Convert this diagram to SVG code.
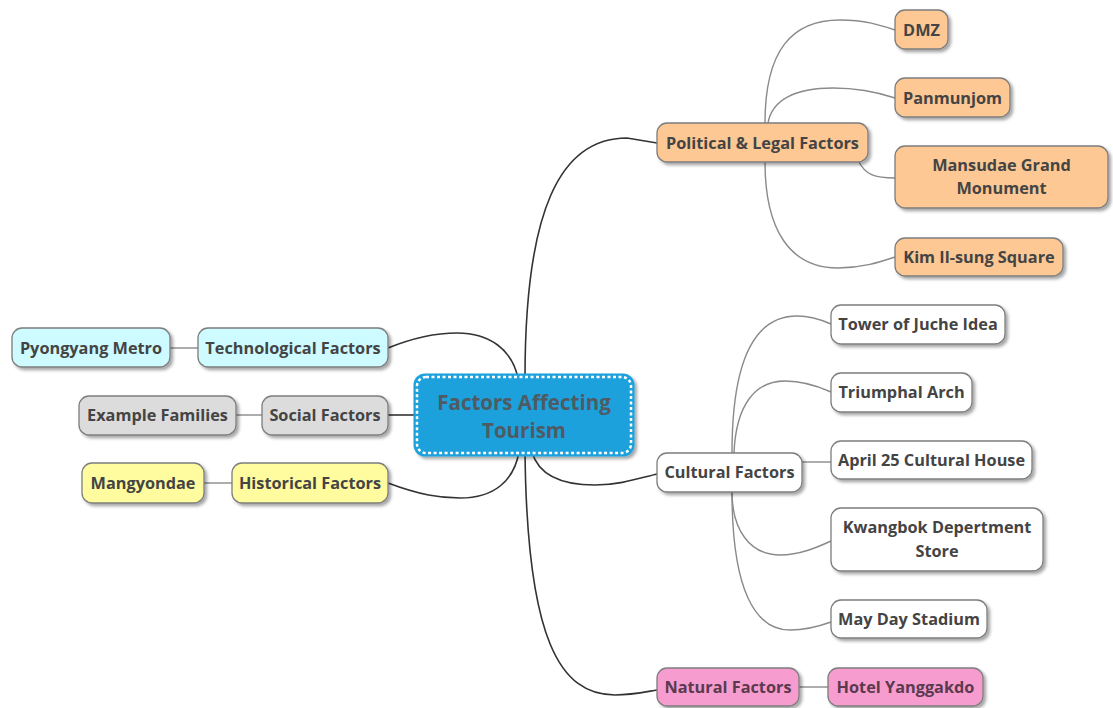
<svg xmlns="http://www.w3.org/2000/svg" width="1113" height="708" viewBox="0 0 1113 708">
<defs>
<filter id="sh" x="-10%" y="-20%" width="130%" height="160%">
<feDropShadow dx="2.5" dy="2.5" stdDeviation="1.5" flood-color="#000" flood-opacity="0.35"/>
</filter>
<style>
.n{stroke:#7d7d7d;stroke-width:1.3;filter:url(#sh)}
.t{font-family:"Open Sans","Noto Sans","DejaVu Sans",sans-serif;font-weight:bold;font-size:16.3px;fill:#444;text-anchor:middle;dominant-baseline:central}
.o{fill:#fdc894}.c{fill:#cdfbff}.g{fill:#dcdcdc}.y{fill:#fefc9f}.p{fill:#f79ccf}.w{fill:#ffffff}
.m{fill:none;stroke:#333;stroke-width:1.6}
.s{fill:none;stroke:#8a8a8a;stroke-width:1.4}
</style>
</defs>
<rect width="1113" height="708" fill="#fff"/>
<g id="connectors">
<path class="m" d="M525,378 C525,210 560,138 627,138 L657,143"/>
<path class="m" d="M388,348 Q425,333 457,333 C490,333 512,350 518,378"/>
<path class="m" d="M388,415 L418,415"/>
<path class="m" d="M388,483 C420,495 440,498 460,498 C495,498 514,480 519,452"/>
<path class="m" d="M532,452 C540,480 570,485 595,485 C620,485 640,478 657,474"/>
<path class="m" d="M525,452 C527,640 560,695 615,695 C632,695 645,692 657,690"/>
<path class="s" d="M765,123 C765,50 792,20 840,20 C865,20 880,25 895,30"/>
<path class="s" d="M768,123 C772,100 795,88 833,88 C860,88 880,93 895,98"/>
<path class="s" d="M858,160 C865,175 875,178 895,178"/>
<path class="s" d="M765,162 C765,230 790,268 838,268 C862,268 880,262 895,257"/>
<path class="s" d="M732,453 C732,360 755,316 797,316 C812,316 822,320 831,324"/>
<path class="s" d="M734,453 C736,405 755,381 785,381 C805,381 820,387 831,392"/>
<path class="s" d="M802,462 L831,462"/>
<path class="s" d="M732,492 C732,530 750,555 780,555 C800,555 818,547 831,541"/>
<path class="s" d="M732,492 C732,590 755,630 790,630 C808,630 820,626 831,622"/>
<path class="s" d="M170,348 L198,348"/>
<path class="s" d="M236,415 L262,415"/>
<path class="s" d="M204,483 L232,483"/>
<path class="s" d="M799,687 L828,687"/>
</g>
<g id="root">
<rect x="415" y="375" width="218" height="80" rx="10" fill="#1ba1dc" stroke="#1ba1dc" stroke-width="3" filter="url(#sh)"/>
<rect x="417" y="377" width="214" height="76" rx="9" fill="none" stroke="#fff" stroke-width="2.5" stroke-dasharray="3,2.5"/>
<text class="t" x="524" y="402" style="font-size:20.5px;fill:#505a62">Factors Affecting</text>
<text class="t" x="524" y="430" style="font-size:20.5px;fill:#505a62">Tourism</text>
</g>
<g id="political"><rect class="n o" x="657" y="123" width="211" height="39" rx="10"/><text class="t" x="762.5" y="143">Political &amp; Legal Factors</text></g>
<g id="dmz"><rect class="n o" x="895" y="10" width="53" height="39" rx="10"/><text class="t" x="921.5" y="30">DMZ</text></g>
<g id="panmunjom"><rect class="n o" x="895" y="78" width="115" height="39" rx="10"/><text class="t" x="952.5" y="98">Panmunjom</text></g>
<g id="mansudae"><rect class="n o" x="895" y="146" width="213" height="62" rx="10"/><text class="t" x="1001.5" y="165">Mansudae Grand</text><text class="t" x="1001.5" y="188">Monument</text></g>
<g id="kimilsung"><rect class="n o" x="895" y="238" width="168" height="38" rx="10"/><text class="t" x="979" y="257">Kim Il-sung Square</text></g>
<g id="technological"><rect class="n c" x="198" y="328" width="190" height="39" rx="10"/><text class="t" x="293" y="348">Technological Factors</text></g>
<g id="metro"><rect class="n c" x="12" y="328" width="158" height="39" rx="10"/><text class="t" x="91" y="348">Pyongyang Metro</text></g>
<g id="social"><rect class="n g" x="262" y="396" width="126" height="39" rx="10"/><text class="t" x="325" y="415">Social Factors</text></g>
<g id="families"><rect class="n g" x="79" y="396" width="157" height="39" rx="10"/><text class="t" x="157.5" y="415">Example Families</text></g>
<g id="historical"><rect class="n y" x="232" y="463" width="156" height="40" rx="10"/><text class="t" x="310" y="483">Historical Factors</text></g>
<g id="mangyondae"><rect class="n y" x="82" y="463" width="122" height="40" rx="10"/><text class="t" x="143" y="483">Mangyondae</text></g>
<g id="cultural"><rect class="n w" x="657" y="453" width="145" height="39" rx="10"/><text class="t" x="729.5" y="472">Cultural Factors</text></g>
<g id="juche"><rect class="n w" x="831" y="305" width="174" height="39" rx="10"/><text class="t" x="918" y="324">Tower of Juche Idea</text></g>
<g id="arch"><rect class="n w" x="831" y="373" width="141" height="39" rx="10"/><text class="t" x="901.5" y="392">Triumphal Arch</text></g>
<g id="april"><rect class="n w" x="831" y="441" width="201" height="38" rx="10"/><text class="t" x="931.5" y="460">April 25 Cultural House</text></g>
<g id="kwangbok"><rect class="n w" x="831" y="508" width="212" height="63" rx="10"/><text class="t" x="937" y="527">Kwangbok Depertment</text><text class="t" x="937" y="551">Store</text></g>
<g id="mayday"><rect class="n w" x="831" y="600" width="156" height="38" rx="10"/><text class="t" x="909" y="619">May Day Stadium</text></g>
<g id="natural"><rect class="n p" x="657" y="668" width="142" height="38" rx="10"/><text class="t" x="728" y="687" style="fill:#5a3a4e">Natural Factors</text></g>
<g id="hotel"><rect class="n p" x="828" y="668" width="155" height="38" rx="10"/><text class="t" x="905.5" y="687" style="fill:#5a3a4e">Hotel Yanggakdo</text></g>
</svg>
